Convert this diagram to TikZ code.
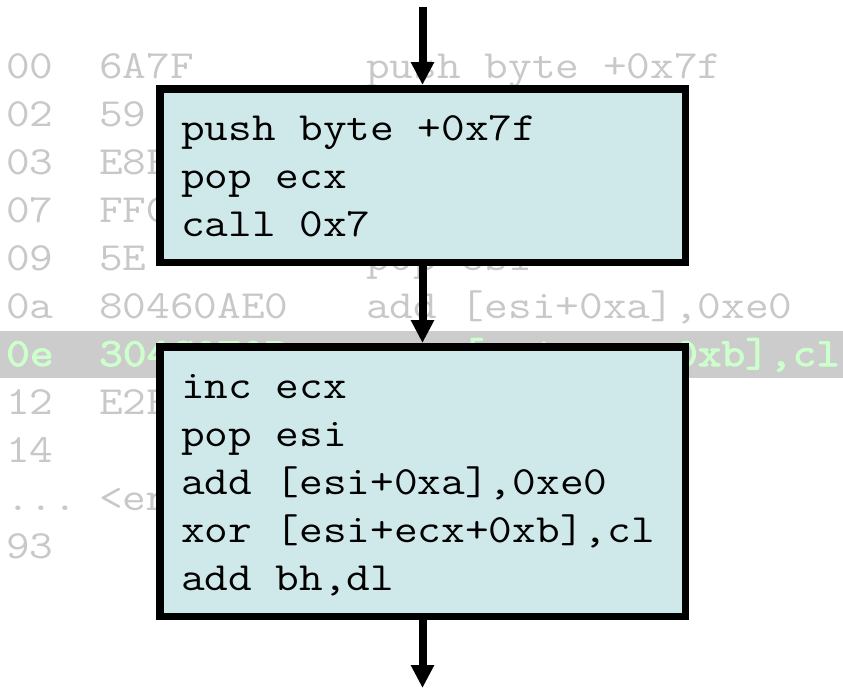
\documentclass[tikz,border=0pt]{standalone}
\usepackage{fontspec}
\usepackage{xcolor}
\usepackage{tikz}
\usetikzlibrary{arrows.meta,positioning}
\newfontfamily\asmfont[FakeStretch=1.15]{Latin Modern Mono}
\newfontfamily\hotfont[FakeStretch=1.15, FakeBold=2.5]{Latin Modern Mono}
\definecolor{listgray}{RGB}{200,200,200}
\definecolor{bandgray}{RGB}{204,204,204}
\definecolor{bandgreen}{RGB}{204,255,204}
\definecolor{boxteal}{RGB}{207,232,234}

\begin{document}
\begin{tikzpicture}[x=1pt, y=-1pt,
    asm/.style={anchor=base west, inner sep=0pt, text=listgray, font=\asmfont\fontsize{40}{48}\selectfont},
    hot/.style={asm, text=bandgreen, font=\hotfont\fontsize{40}{48}\selectfont},
    codebox/.style={draw, line width=7.5pt, fill=boxteal, align=left, text width=483pt, inner xsep=21.25pt, inner ysep=10pt, font=\asmfont\fontsize{40}{48}\selectfont,
        execute at begin node={\spaceskip=0pt\xspaceskip=0pt\rule{0pt}{41.5pt}},
        execute at end node={\rule[-16pt]{0pt}{16pt}}},
    flow/.style={-{Triangle[length=23pt, width=22pt]}, line width=8pt}]
                \useasboundingbox (0,0) rectangle (843,688);

                % Disassembly listing behind the blocks
                \foreach \addr/\hex/\ins [count=\i from 0] in {00/6A7F/{push byte +0x7f}, 02/59/{pop ecx}, 03/E8FFFFFFFF/{call 0x7}, 07/FFC1/{inc ecx}, 09/5E/{pop esi}, 0a/80460AE0/{add [esi+0xa],0xe0}, 12/E2FA/{loop 0xe}} {
                    \pgfmathtruncatemacro\row{\i<6 ? \i : \i+1}
                    \node[asm] (addr\row) at (6,78+48*\row) {\addr};
                    \node[asm] (hex\row) at (99,78+48*\row) {\hex};
                    \node[asm] (ins\row) at (366,78+48*\row) {\ins};
                }
                \node[asm] (addr8) at (6,462) {14};
                \node[asm] (addr9) at (6,510) {...};
                \node[asm] (hex9) at (99,510) {<encoded payload>};
                \node[asm] (addr10) at (6,558) {93};

                % Highlighted row
                \fill[bandgray] (0,331) rectangle (843,378);
                \node[hot] (addr6) at (6,366) {0e};
                \node[hot] (hex6) at (99,366) {304C0E0B};
                \node[hot] (ins6) at (366,366) {xor [esi+ecx+0xb],cl};

                % Basic blocks
                \node[codebox, anchor=north] (blk1) at (422.5,85) {push byte +0x7f\\pop ecx\\call 0x7};
                \node[codebox, below=77pt of blk1] (blk2) {inc ecx\\pop esi\\add [esi+0xa],0xe0\\xor [esi+ecx+0xb],cl\\add bh,dl};

                % Control flow
                \coordinate (entry) at (422.5,7);
                \coordinate (exit) at (422.5,688);
                \draw[flow] (entry) -- (blk1);
                \draw[flow] (blk1) -- (blk2);
                \draw[flow] (blk2) -- (exit);
            \end{tikzpicture}
\end{document}
